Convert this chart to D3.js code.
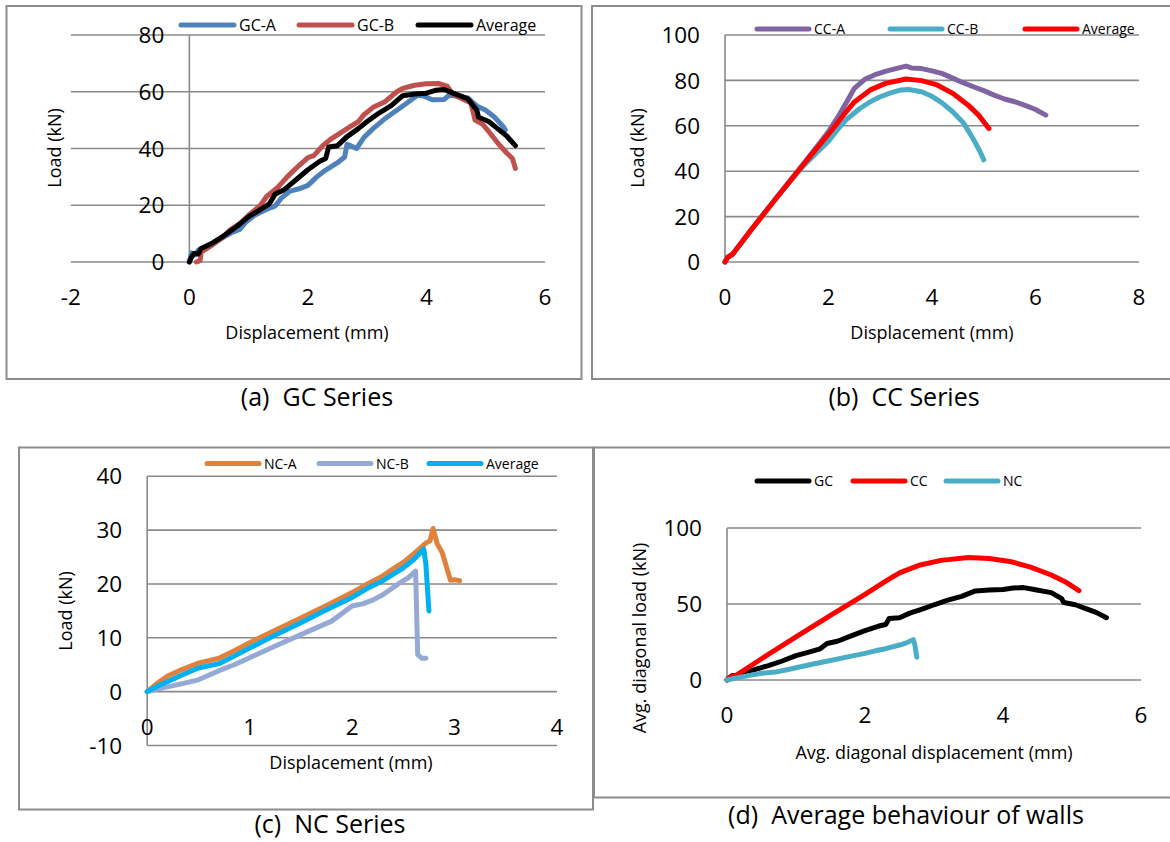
<!DOCTYPE html>
<html>
<head>
<meta charset="utf-8">
<script src="https://cdn.jsdelivr.net/npm/d3@7"></script>
<style>
  body { margin: 0; background: #fff; }
  svg { display: block; font-family: "Open Sans", Lato, sans-serif; }
</style>
</head>
<body>
<div class="svg-container"></div>
<script>
// ---- data (displacement mm, load kN) ----
const gcA = [[0,0],[0.04,3.2],[0.1,2.6],[0.15,4.2],[0.3,5.5],[0.5,7.8],[0.7,10.2],[0.85,11.5],[0.95,14],[1.1,16.5],[1.3,18.5],[1.45,19.8],[1.55,22.5],[1.7,25],[1.85,25.8],[2.0,27],[2.15,30],[2.3,32.4],[2.5,35],[2.62,37],[2.66,41.5],[2.72,41],[2.82,40],[2.95,44],[3.1,47],[3.3,50.5],[3.5,53.5],[3.7,56.5],[3.85,58.8],[3.95,58.5],[4.1,57.2],[4.3,57.3],[4.38,58.8],[4.5,58.5],[4.7,57.8],[4.85,55],[5.0,53.5],[5.15,51],[5.3,47.6],[5.33,46.5]];
const gcB = [[0.12,0],[0.18,0.5],[0.2,3.5],[0.35,5.5],[0.55,8.5],[0.7,11.5],[0.85,13.5],[1.0,16.5],[1.2,20],[1.3,23],[1.5,26.5],[1.65,30],[1.85,34],[2.0,36.8],[2.1,37.5],[2.25,41],[2.4,43.5],[2.55,45.5],[2.7,47.5],[2.85,49.5],[2.95,52],[3.1,54.5],[3.3,56.5],[3.5,60],[3.6,61.2],[3.8,62.3],[4.0,62.8],[4.2,62.9],[4.35,62],[4.45,59],[4.6,57.5],[4.75,56],[4.82,50],[4.95,48.5],[5.05,46],[5.2,42],[5.35,38.5],[5.45,36.5],[5.5,33]];
const gcAvg = [[0,0],[0.03,1.5],[0.08,3],[0.15,2.8],[0.2,4.8],[0.4,6.8],[0.6,9.5],[0.8,12.5],[1.0,16],[1.2,18.5],[1.35,20.5],[1.45,24],[1.6,25.5],[1.8,29],[2.0,32.5],[2.2,35.5],[2.3,36.5],[2.35,40.5],[2.5,41],[2.65,44],[2.85,47],[3.0,49.5],[3.2,52.5],[3.4,55],[3.6,58.6],[3.8,59.2],[4.0,59.5],[4.15,60.5],[4.3,60.8],[4.45,59.5],[4.7,57.5],[4.85,53.5],[4.88,51],[5.05,49.5],[5.2,47],[5.35,44.5],[5.5,41]];

const ccA = [[0,0],[0.05,2],[0.15,3.5],[0.5,14],[1.0,28.5],[1.5,42.8],[1.8,51.5],[2.0,57.5],[2.2,64.5],[2.4,72.5],[2.5,76.5],[2.7,80.5],[2.9,82.5],[3.1,84],[3.3,85.2],[3.5,86.3],[3.6,85.5],[3.8,85.2],[4.0,84.2],[4.2,83],[4.4,81],[4.6,79],[4.8,77.2],[5.0,75.5],[5.2,73.5],[5.4,71.8],[5.6,70.6],[5.8,69],[6.0,67.2],[6.2,64.7]];
const ccB = [[0,0],[0.05,2],[0.15,3.5],[0.5,14],[1.0,28.3],[1.5,42],[1.8,48.8],[2.0,53.2],[2.2,59],[2.35,62.8],[2.6,67.5],[2.8,70.5],[3.0,72.8],[3.2,74.5],[3.4,75.8],[3.55,76],[3.8,75],[4.0,73],[4.2,70],[4.4,66.2],[4.6,61.5],[4.75,56],[4.85,52],[4.92,49],[5.0,45]];
const ccAvg = [[0,0],[0.05,2],[0.15,3.5],[0.5,14],[1.0,28.4],[1.5,42.5],[2.0,56.3],[2.3,65],[2.5,70.5],[2.8,75.7],[3.1,78.7],[3.5,80.6],[3.8,79.9],[4.1,78],[4.4,74.3],[4.7,69.1],[4.9,64.7],[5.1,58.8]];

const ncA = [[0,0],[0.1,1.6],[0.2,2.9],[0.35,4.2],[0.5,5.3],[0.7,6.2],[0.85,7.6],[1.0,9.1],[1.25,11.4],[1.5,13.7],[1.75,16],[2.0,18.4],[2.15,20],[2.3,21.5],[2.4,22.8],[2.5,24],[2.6,25.6],[2.72,27.6],[2.76,28],[2.79,30.3],[2.83,27.5],[2.88,25.8],[2.96,20.7],[3.0,20.8],[3.05,20.6]];
const ncB = [[0,0],[0.15,0.7],[0.3,1.3],[0.5,2.2],[0.7,3.9],[0.85,5],[1.0,6.3],[1.25,8.5],[1.5,10.6],[1.8,13.1],[2.0,15.9],[2.1,16.3],[2.2,17],[2.3,18],[2.45,20],[2.55,21.2],[2.62,22.4],[2.64,6.9],[2.68,6.2],[2.72,6.2]];
const ncAvg = [[0,0],[0.1,1],[0.2,1.9],[0.35,3.2],[0.5,4.4],[0.7,5.2],[0.85,6.6],[1.0,8.1],[1.25,10.5],[1.5,12.8],[1.75,15.2],[2.0,17.5],[2.15,19.2],[2.3,20.6],[2.5,23],[2.6,24.5],[2.7,26.5],[2.72,23.7],[2.75,15]];

const ticksA = {x: [-2,0,2,4,6], y: [0,20,40,60,80]};
const ticksB = {x: [0,2,4,6,8], y: [0,20,40,60,80,100]};
const ticksC = {x: [0,1,2,3,4], y: [-10,0,10,20,30,40]};
const ticksD = {x: [0,2,4,6], y: [0,50,100]};

const svg = d3.select('.svg-container')
    .append('svg')
    .attr('width', 1170)
    .attr('height', 842);

const line = d3.line();

function drawPanel(p) {
  const g = svg.append('g');

  // chart frame
  g.append('rect')
      .attr('x', p.box[0]).attr('y', p.box[1])
      .attr('width', p.box[2]).attr('height', p.box[3])
      .attr('fill', 'none').attr('stroke', '#8c8c8c').attr('stroke-width', 2);

  const x = d3.scaleLinear().domain(p.xdom).range(p.xr);
  const y = d3.scaleLinear().domain(p.ydom).range(p.yr);

  // horizontal gridlines
  g.selectAll('.grid')
    .data(p.ticks.y)
    .enter().append('line')
      .attr('x1', p.xr[0]).attr('x2', p.xr[1])
      .attr('y1', d => y(d)).attr('y2', d => y(d))
      .attr('stroke', '#8a8a8a').attr('stroke-width', 1.6);

  // vertical axis at x = 0
  g.append('line')
      .attr('x1', x(0)).attr('x2', x(0))
      .attr('y1', y(p.ydom[1])).attr('y2', y(p.ydom[0]))
      .attr('stroke', '#8a8a8a').attr('stroke-width', 1.6);

  g.selectAll('.ytick')
    .data(p.ticks.y)
    .enter().append('text')
      .attr('x', x(0) - 25)
      .attr('y', d => y(d))
      .attr('dy', '0.36em')
      .attr('text-anchor', 'end')
      .style('font-size', '22.5px')
      .text(d => d);

  g.selectAll('.xtick')
    .data(p.ticks.x)
    .enter().append('text')
      .attr('x', d => x(d))
      .attr('y', y(0) + 35)
      .attr('dy', '0.36em')
      .attr('text-anchor', 'middle')
      .style('font-size', '22.5px')
      .text(d => d);

  // axis titles
  g.append('text')
      .attr('x', p.xt[0]).attr('y', p.xt[1])
      .attr('dy', '0.36em')
      .attr('text-anchor', 'middle')
      .style('font-size', '18px')
      .text(p.xlabel);

  g.append('text')
      .attr('transform', `translate(${p.yt[0]},${p.yt[1]}) rotate(-90)`)
      .attr('dy', '0.36em')
      .attr('text-anchor', 'middle')
      .style('font-size', '18px')
      .text(p.ylabel);

  // series
  g.selectAll('.serie')
    .data(p.series)
    .enter().append('path')
      .attr('d', s => line(s.data.map(d => [x(d[0]), y(d[1])])))
      .attr('fill', 'none')
      .attr('stroke', s => s.color)
      .attr('stroke-width', 5)
      .attr('stroke-linejoin', 'round')
      .attr('stroke-linecap', 'round');

  // legend
  const legend = g.selectAll('.legend')
    .data(p.series)
    .enter().append('g')
      .attr('transform', (s, i) => `translate(${p.leg.x[i]},${p.leg.y})`);

  legend.append('line')
      .attr('x1', 0).attr('x2', p.leg.len)
      .attr('stroke', s => s.color)
      .attr('stroke-width', 5)
      .attr('stroke-linecap', 'round');

  legend.append('text')
      .attr('x', p.leg.len + 5)
      .attr('dy', '0.36em')
      .style('font-size', p.leg.size + 'px')
      .text(s => s.name);

  // caption below the frame
  svg.append('text')
      .attr('x', p.cap[0]).attr('y', p.cap[1])
      .attr('dy', '0.36em')
      .attr('text-anchor', 'middle')
      .style('font-size', '25px')
      .attr('xml:space', 'preserve')
      .text(p.caption);
}

drawPanel({
  box: [6.5, 6, 575, 373],
  xdom: [-2, 6], xr: [70.8, 545],
  ydom: [0, 80], yr: [262, 35],
  ticks: ticksA,
  xlabel: 'Displacement (mm)', xt: [307, 333],
  ylabel: 'Load (kN)', yt: [55, 148],
  series: [
    {name: 'GC-A', color: '#4f81bd', data: gcA},
    {name: 'GC-B', color: '#c0504d', data: gcB},
    {name: 'Average', color: '#000000', data: gcAvg}
  ],
  leg: {x: [181, 299, 418], y: 25, len: 53, size: 16},
  caption: '(a)  GC Series', cap: [317, 397]
});

drawPanel({
  box: [592, 6, 600, 373],
  xdom: [0, 8], xr: [725, 1139],
  ydom: [0, 100], yr: [262, 35],
  ticks: ticksB,
  xlabel: 'Displacement (mm)', xt: [932, 333],
  ylabel: 'Load (kN)', yt: [638, 148],
  series: [
    {name: 'CC-A', color: '#8064a2', data: ccA},
    {name: 'CC-B', color: '#4bacc6', data: ccB},
    {name: 'Average', color: '#ff0000', data: ccAvg}
  ],
  leg: {x: [757, 890, 1025], y: 29, len: 52, size: 14},
  caption: '(b)  CC Series', cap: [904, 397]
});

drawPanel({
  box: [19, 447.5, 574, 362],
  xdom: [0, 4], xr: [147.2, 557],
  ydom: [-10, 40], yr: [745.5, 476.3],
  ticks: ticksC,
  xlabel: 'Displacement (mm)', xt: [351, 763],
  ylabel: 'Load (kN)', yt: [66, 611],
  series: [
    {name: 'NC-A', color: '#e0823d', data: ncA},
    {name: 'NC-B', color: '#94aad4', data: ncB},
    {name: 'Average', color: '#00b0f0', data: ncAvg}
  ],
  leg: {x: [207, 319, 429], y: 463.5, len: 52, size: 14},
  caption: '(c)  NC Series', cap: [330, 824]
});

drawPanel({
  box: [594, 447.5, 600, 350],
  xdom: [0, 6], xr: [727, 1141],
  ydom: [0, 100], yr: [680, 528],
  ticks: ticksD,
  xlabel: 'Avg. diagonal displacement (mm)', xt: [934, 753],
  ylabel: 'Avg. diagonal load (kN)', yt: [640, 638],
  series: [
    {name: 'GC', color: '#000000', data: gcAvg},
    {name: 'CC', color: '#ff0000', data: ccAvg},
    {name: 'NC', color: '#4bacc6', data: ncAvg}
  ],
  leg: {x: [757, 853, 946], y: 481, len: 52, size: 14},
  caption: '(d)  Average behaviour of walls', cap: [906, 815]
});
</script>
</body>
</html>
